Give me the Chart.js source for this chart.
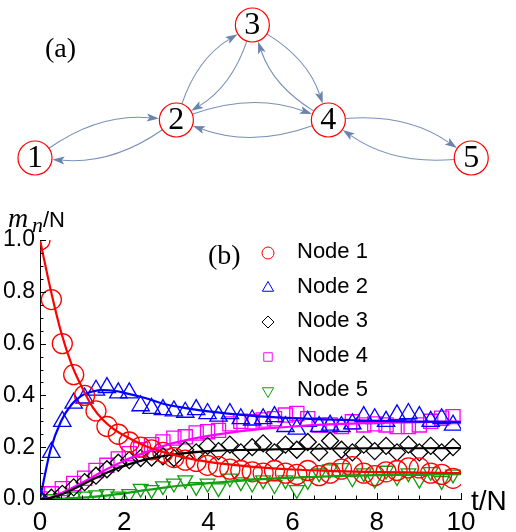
<!DOCTYPE html>
<html>
<head>
<meta charset="utf-8">
<script src="https://cdn.jsdelivr.net/npm/chart.js@4.4.1/dist/chart.umd.min.js"></script>
<style>
  html, body { margin: 0; padding: 0; background: #fff; }
  #wrap { position: relative; width: 516px; height: 532px; overflow: hidden; }
  #net { position: absolute; left: 0; top: 0; }
  #plot { position: absolute; left: 0; top: 190px; }
</style>
</head>
<body>
<div id="wrap">
  <canvas id="net" width="516" height="190"></canvas>
  <canvas id="plot" width="516" height="342"></canvas>
</div>
<script>
// ---- network (a) ----
const nodeLabels = ['1', '2', '3', '4', '5'];
const nodeX = [0, 0.93, 1.43, 1.93, 2.87];
const nodeY = [0, 0.25, 0.875, 0.25, 0];
const edgeFrom = [1, 2, 2, 3, 3, 4, 2, 4, 4, 5];
const edgeTo   = [2, 1, 3, 2, 4, 3, 4, 2, 5, 4];

// ---- panel (b) ----
const simTime = [0, 0.27, 0.53, 0.80, 1.06, 1.33, 1.59, 1.86, 2.12, 2.39, 2.65, 2.92, 3.18, 3.45,
  3.71, 3.98, 4.24, 4.51, 4.77, 5.04, 5.30, 5.57, 5.83, 6.10, 6.36, 6.63, 6.89, 7.16, 7.42,
  7.69, 7.95, 8.22, 8.48, 8.75, 9.01, 9.28, 9.54, 9.81];
const node1Sim = [1.00, 0.77, 0.60, 0.48, 0.40, 0.34, 0.28, 0.25, 0.22, 0.20, 0.19, 0.18, 0.16, 0.15,
  0.145, 0.13, 0.125, 0.115, 0.11, 0.105, 0.10, 0.11, 0.10, 0.095, 0.11, 0.09, 0.10, 0.115, 0.125,
  0.10, 0.09, 0.105, 0.11, 0.12, 0.12, 0.10, 0.095, 0.08];
const node2Sim = [0.00, 0.18, 0.30, 0.37, 0.39, 0.42, 0.43, 0.41, 0.41, 0.36, 0.35, 0.345, 0.34, 0.335,
  0.345, 0.33, 0.32, 0.33, 0.31, 0.305, 0.31, 0.318, 0.28, 0.27, 0.30, 0.28, 0.285, 0.28, 0.29,
  0.318, 0.31, 0.30, 0.325, 0.33, 0.318, 0.30, 0.31, 0.285];
const node3Sim = [0.00, 0.005, 0.02, 0.045, 0.065, 0.09, 0.115, 0.14, 0.15, 0.158, 0.16, 0.165, 0.158, 0.19,
  0.18, 0.205, 0.185, 0.21, 0.18, 0.20, 0.215, 0.18, 0.21, 0.19, 0.22, 0.18, 0.225, 0.19, 0.18,
  0.21, 0.185, 0.205, 0.18, 0.21, 0.18, 0.205, 0.18, 0.20];
const node4Sim = [0.00, 0.02, 0.04, 0.06, 0.08, 0.11, 0.13, 0.155, 0.175, 0.19, 0.21, 0.22, 0.235, 0.24,
  0.255, 0.26, 0.265, 0.29, 0.30, 0.298, 0.305, 0.31, 0.324, 0.33, 0.31, 0.286, 0.286, 0.28, 0.298,
  0.286, 0.29, 0.286, 0.28, 0.28, 0.286, 0.30, 0.312, 0.318];
const node5Sim = [0.00, 0.00, 0.005, 0.01, 0.01, 0.015, 0.02, 0.01, 0.02, 0.04, 0.035, 0.05, 0.06, 0.073,
  0.047, 0.06, 0.042, 0.08, 0.065, 0.06, 0.073, 0.054, 0.073, 0.035, 0.07, 0.10, 0.115, 0.12, 0.08,
  0.10, 0.075, 0.11, 0.085, 0.10, 0.075, 0.105, 0.07, 0.095];

const lineTime = [0, 0.25, 0.5, 0.75, 1, 1.25, 1.5, 1.75, 2, 2.5, 3, 3.5, 4, 5, 6, 7, 8, 9, 10];
const node1Fit = [1.0, 0.81, 0.645, 0.52, 0.43, 0.355, 0.305, 0.27, 0.245, 0.205, 0.178, 0.158, 0.143, 0.125, 0.114, 0.108, 0.104, 0.102, 0.10];
const node2Fit = [0, 0.19, 0.30, 0.365, 0.40, 0.415, 0.42, 0.418, 0.41, 0.39, 0.365, 0.35, 0.338, 0.322, 0.312, 0.306, 0.302, 0.299, 0.297];
const node3Fit = [0, 0.004, 0.017, 0.035, 0.055, 0.075, 0.095, 0.113, 0.128, 0.152, 0.168, 0.178, 0.185, 0.19, 0.193, 0.195, 0.196, 0.196, 0.197];
const node4Fit = [0, 0.006, 0.022, 0.042, 0.063, 0.085, 0.108, 0.128, 0.148, 0.18, 0.208, 0.228, 0.244, 0.266, 0.28, 0.289, 0.294, 0.297, 0.299];
const node5Fit = [0, 0, 0.001, 0.003, 0.005, 0.008, 0.012, 0.017, 0.022, 0.034, 0.045, 0.054, 0.061, 0.074, 0.082, 0.088, 0.092, 0.094, 0.096];

const seriesNames = ['Node 1', 'Node 2', 'Node 3', 'Node 4', 'Node 5'];
const xTicks = [0, 2, 4, 6, 8, 10];
const yTicks = [0, 0.2, 0.4, 0.6, 0.8, 1.0];

// styles
const colors = ['#ff0000', '#0000ff', '#000000', '#ff00ff', '#10a010'];
const markers = ['circle', 'triangle', 'rectRot', 'rect', 'triangle'];
const markerRot = [0, 0, 0, 0, 180];
const markerSize = [10, 10, 8.5, 10, 8.5];
const legendSize = [6, 6.5, 6, 6, 6.5];
const SERIF = "'Liberation Serif', 'Times New Roman', serif";
const SANS = "'Liberation Sans', Arial, sans-serif";

Chart.defaults.font.family = SANS;
Chart.defaults.color = '#000';

// ---------- network chart ----------
const netPlugin = {
  id: 'netEdges',
  beforeDatasetsDraw(chart) {
    const { ctx, scales: { x, y } } = chart;
    const R = 17, bend = 0.18, headLen = 12, headW = 4;
    ctx.save();
    ctx.strokeStyle = '#7890b8';
    ctx.fillStyle = '#6a84af';
    ctx.lineWidth = 1.1;
    edgeFrom.forEach((f, i) => {
      const t = edgeTo[i];
      const ax = x.getPixelForValue(nodeX[f - 1]), ay = y.getPixelForValue(nodeY[f - 1]);
      const bx = x.getPixelForValue(nodeX[t - 1]), by = y.getPixelForValue(nodeY[t - 1]);
      const dx = bx - ax, dy = by - ay, L = Math.hypot(dx, dy);
      const cx = (ax + bx) / 2 + dy / L * bend * L;
      const cy = (ay + by) / 2 - dx / L * bend * L;
      const sL = Math.hypot(cx - ax, cy - ay);
      const sx = ax + (cx - ax) / sL * R, sy = ay + (cy - ay) / sL * R;
      const eL = Math.hypot(bx - cx, by - cy);
      const ux = (bx - cx) / eL, uy = (by - cy) / eL;
      const ex = bx - ux * (R + 0.5), ey = by - uy * (R + 0.5);
      const hx = ex - ux * headLen, hy = ey - uy * headLen;
      ctx.beginPath();
      ctx.moveTo(sx, sy);
      ctx.quadraticCurveTo(cx, cy, hx + ux * 2, hy + uy * 2);
      ctx.stroke();
      ctx.beginPath();
      ctx.moveTo(ex, ey);
      ctx.lineTo(hx - uy * headW, hy + ux * headW);
      ctx.lineTo(hx + ux * 2.5, hy + uy * 2.5);
      ctx.lineTo(hx + uy * headW, hy - ux * headW);
      ctx.closePath();
      ctx.fill();
    });
    ctx.restore();
  },
  afterDatasetsDraw(chart) {
    const { ctx, scales: { x, y } } = chart;
    ctx.save();
    ctx.fillStyle = '#000';
    ctx.textAlign = 'center';
    ctx.textBaseline = 'middle';
    ctx.font = '32px ' + SERIF;
    nodeLabels.forEach((lab, i) => {
      ctx.fillText(lab, x.getPixelForValue(nodeX[i]), y.getPixelForValue(nodeY[i]) + 1);
    });
    ctx.font = '28px ' + SERIF;
    ctx.textAlign = 'left';
    ctx.textBaseline = 'alphabetic';
    ctx.fillText('(a)', 45, 57);
    ctx.restore();
  }
};

new Chart(document.getElementById('net'), {
  type: 'scatter',
  data: {
    datasets: [{
      data: nodeX.map((v, i) => ({ x: v, y: nodeY[i] })),
      pointStyle: 'circle',
      pointRadius: 17,
      pointBorderWidth: 1.2,
      borderColor: '#ff0000',
      backgroundColor: '#ffffff',
      clip: false
    }]
  },
  options: {
    responsive: false,
    animation: false,
    events: [],
    layout: { padding: 0, autoPadding: false },
    plugins: { legend: { display: false }, tooltip: { enabled: false } },
    scales: {
      x: { display: false, min: -0.2303, max: 3.1645 },
      y: { display: false, min: -0.2105, max: 1.0395 }
    }
  },
  plugins: [netPlugin]
});

// ---------- time plot ----------
const simSeries = [node1Sim, node2Sim, node3Sim, node4Sim, node5Sim];
const fitSeries = [node1Fit, node2Fit, node3Fit, node4Fit, node5Fit];

const datasets = [];
fitSeries.forEach((s, i) => {
  datasets.push({
    label: seriesNames[i] + ' theory',
    data: lineTime.map((t, k) => ({ x: t, y: s[k] })),
    showLine: true,
    borderColor: colors[i],
    borderWidth: 2.2,
    pointRadius: 0,
    cubicInterpolationMode: 'monotone',
    clip: 0,
    order: 0
  });
});
simSeries.forEach((s, i) => {
  datasets.push({
    label: seriesNames[i],
    data: simTime.map((t, k) => ({ x: t, y: s[k] })),
    showLine: false,
    pointStyle: markers[i],
    pointRotation: markerRot[i],
    pointRadius: markerSize[i],
    pointBorderWidth: 1.3,
    borderColor: colors[i],
    backgroundColor: 'rgba(0,0,0,0)',
    clip: 0,
    order: 1
  });
});

const plotPlugin = {
  id: 'plotDecor',
  afterDraw(chart) {
    const { ctx, chartArea: a, scales: { x, y } } = chart;
    ctx.save();
    ctx.strokeStyle = '#000';
    ctx.lineWidth = 1;
    ctx.beginPath();
    for (let k = 0; k <= 20; k++) {
      const py = Math.round(y.getPixelForValue(k * 0.05)) + 0.5;
      const len = k % 4 === 0 ? 6 : 3.5;
      ctx.moveTo(a.left, py);
      ctx.lineTo(a.left + len, py);
    }
    for (let k = 0; k <= 20; k++) {
      const px = Math.round(x.getPixelForValue(k * 0.5)) + 0.5;
      const len = k % 4 === 0 ? 6 : 3.5;
      ctx.moveTo(px, a.bottom);
      ctx.lineTo(px, a.bottom - len);
    }
    ctx.stroke();

    // legend
    const rowY = [62, 97, 131, 166, 200];
    seriesNames.forEach((name, i) => {
      ctx.strokeStyle = colors[i];
      ctx.fillStyle = 'rgba(0,0,0,0)';
      ctx.lineWidth = 1;
      Chart.helpers.drawPoint(ctx, {
        pointStyle: markers[i], radius: legendSize[i], rotation: markerRot[i], borderWidth: 1
      }, 268, rowY[i] + 1);
      ctx.fillStyle = '#000';
      ctx.font = '22px ' + SANS;
      ctx.textAlign = 'left';
      ctx.textBaseline = 'middle';
      ctx.fillText(name, 297, rowY[i]);
    });

    ctx.fillStyle = '#000';
    ctx.textBaseline = 'alphabetic';
    ctx.font = '28px ' + SERIF;
    ctx.fillText('(b)', 208, 74);

    // axis titles
    ctx.font = 'italic 28px ' + SERIF;
    ctx.fillText('m', 8, 37);
    ctx.font = 'italic 22px ' + SERIF;
    ctx.fillText('n', 32, 42);
    ctx.font = '22px ' + SANS;
    ctx.fillText('/N', 43, 37);
    ctx.font = '28px ' + SANS;
    ctx.fillText('t/N', 471, 320);
    ctx.restore();
  }
};

new Chart(document.getElementById('plot'), {
  type: 'scatter',
  data: { datasets },
  options: {
    responsive: false,
    animation: false,
    events: [],
    layout: { padding: { left: 0, right: 55, top: 50, bottom: 0 }, autoPadding: false },
    plugins: { legend: { display: false }, tooltip: { enabled: false } },
    scales: {
      x: {
        type: 'linear', min: 0, max: 10,
        afterBuildTicks: (s) => { s.ticks = xTicks.map(v => ({ value: v })); },
        afterFit: (s) => { s.height = 33; },
        grid: { display: false, drawTicks: false },
        border: { display: true, color: '#000', width: 1 },
        ticks: { font: { size: 26 }, color: '#000', padding: 8, maxRotation: 0, callback: v => String(v) }
      },
      y: {
        type: 'linear', min: 0, max: 1,
        afterBuildTicks: (s) => { s.ticks = yTicks.map(v => ({ value: v })); },
        afterFit: (s) => { s.width = 40; },
        grid: { display: false, drawTicks: false },
        border: { display: true, color: '#000', width: 1 },
        ticks: { font: { size: 23 }, color: '#000', padding: 5, callback: v => Number(v).toFixed(1) }
      }
    }
  },
  plugins: [plotPlugin]
});
</script>
</body>
</html>
